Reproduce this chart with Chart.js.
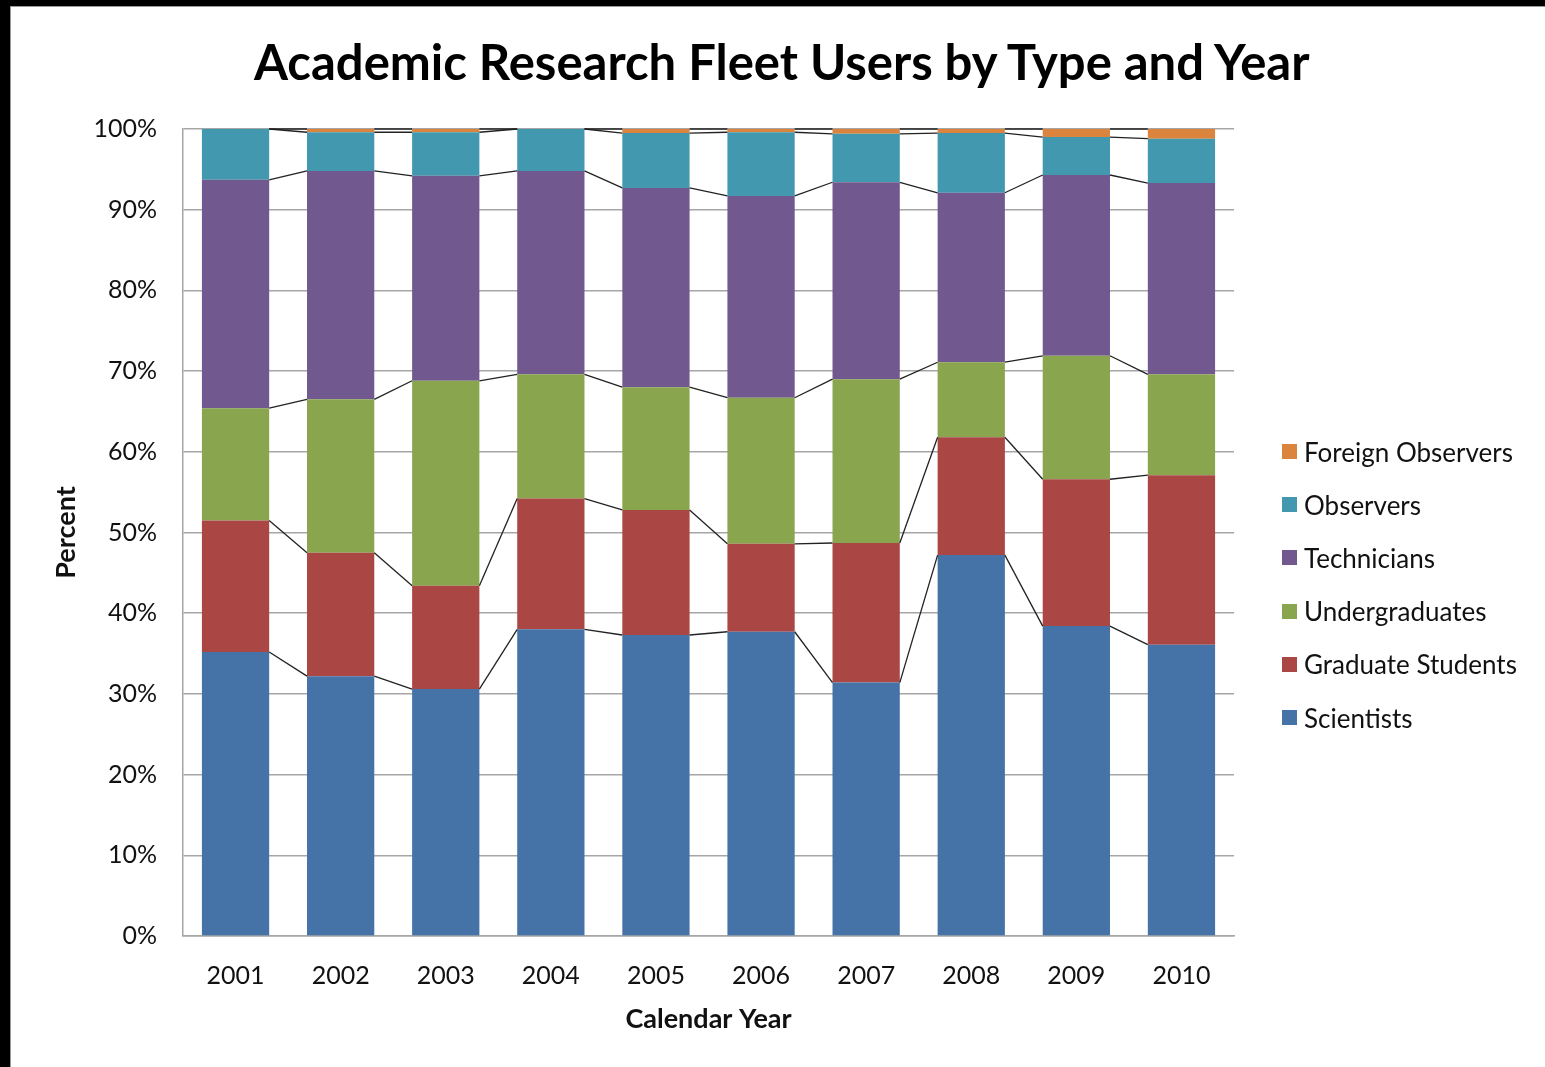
<!DOCTYPE html>
<html>
<head>
<meta charset="utf-8">
<script src="https://cdn.jsdelivr.net/npm/chart.js@4.4.0/dist/chart.umd.min.js"></script>
<style>
    body { margin: 0; background: #000; width: 1545px; height: 1067px; overflow: hidden; }
    #sheet { position: absolute; left: 10px; top: 6px; width: 1535px; height: 1061px; background: #fff; box-shadow: inset 1px 1px 0 #9a9a9a; }
    #chart { position: absolute; left: 0; top: 0; }
    #title { position: absolute; left: 244px; width: 1000px; top: 25px; text-align: center; font-family: Lato, sans-serif; font-weight: bold; font-size: 49px; line-height: 60px; color: #000; white-space: nowrap; }
    #legend { position: absolute; left: 1272px; top: 419px; font-family: Lato, sans-serif; font-size: 26px; color: #111; }
    .item { height: 53.2px; display: flex; align-items: center; white-space: nowrap; }
    .box { width: 15px; height: 15px; margin-right: 7px; }
</style>
</head>
<body>
<div id="sheet">
    <canvas id="chart" width="1535" height="1061"></canvas>
    <div id="title">Academic Research Fleet Users by Type and Year</div>
    <div id="legend"></div>
</div>
<script>
const years = ['2001', '2002', '2003', '2004', '2005', '2006', '2007', '2008', '2009', '2010'];
const scientists = [35.2, 32.2, 30.6, 38.0, 37.3, 37.7, 31.4, 47.2, 38.4, 36.1];
const gradStudents = [16.3, 15.3, 12.8, 16.2, 15.5, 10.9, 17.3, 14.6, 18.2, 21.0];
const undergrads = [13.9, 19.0, 25.4, 15.4, 15.2, 18.1, 20.3, 9.3, 15.3, 12.5];
const technicians = [28.3, 28.3, 25.4, 25.2, 24.7, 25.0, 24.4, 21.0, 22.4, 23.7];
const observers = [6.3, 4.8, 5.4, 5.2, 6.8, 7.9, 6.0, 7.4, 4.7, 5.5];
const foreignObservers = [0, 0.4, 0.4, 0, 0.5, 0.4, 0.6, 0.5, 1.0, 1.2];
const yTicks = [0, 10, 20, 30, 40, 50, 60, 70, 80, 90, 100];

const series = [
    { label: 'Scientists', data: scientists, color: '#4572A7' },
    { label: 'Graduate Students', data: gradStudents, color: '#AA4643' },
    { label: 'Undergraduates', data: undergrads, color: '#89A54E' },
    { label: 'Technicians', data: technicians, color: '#71588F' },
    { label: 'Observers', data: observers, color: '#4198AF' },
    { label: 'Foreign Observers', data: foreignObservers, color: '#DB843D' }
];

// Excel-style series lines joining the top of each segment between bars
const seriesLines = {
    id: 'seriesLines',
    afterDatasetsDraw(chart) {
        const ctx = chart.ctx;
        ctx.save();
        ctx.strokeStyle = '#222';
        ctx.lineWidth = 1.3;
        chart.data.datasets.forEach((ds, i) => {
            const bars = chart.getDatasetMeta(i).data;
            for (let j = 0; j < bars.length - 1; j++) {
                const a = bars[j], b = bars[j + 1];
                ctx.beginPath();
                ctx.moveTo(a.x + a.width / 2, a.y);
                ctx.lineTo(b.x - b.width / 2, b.y);
                ctx.stroke();
            }
        });
        ctx.restore();
    }
};

const gridGray = '#a6a6a6';

new Chart(document.getElementById('chart'), {
    type: 'bar',
    data: {
        labels: years,
        datasets: series.map(s => ({
            label: s.label,
            data: s.data,
            backgroundColor: s.color,
            borderWidth: 0,
            barPercentage: 0.64,
            categoryPercentage: 1
        }))
    },
    options: {
        responsive: false,
        animation: false,
        layout: { padding: { left: 0, right: 311, top: 123, bottom: 0 } },
        plugins: {
            legend: { display: false },
            tooltip: { enabled: false },
            title: { display: false }
        },
        scales: {
            x: {
                stacked: true,
                grid: { display: false, drawTicks: false },
                border: { display: true, color: gridGray, width: 1.5 },
                ticks: { color: '#111', font: { family: 'Lato', size: 25 }, padding: 25 },
                title: {
                    display: true,
                    text: 'Calendar Year',
                    color: '#111',
                    font: { family: 'Lato', size: 27, weight: 'bold' },
                    padding: { top: 0, bottom: 32 }
                },
                afterFit(scale) { scale.height = 1061 - 930; }
            },
            y: {
                stacked: true,
                min: 0,
                max: 100,
                afterBuildTicks(scale) { scale.ticks = yTicks.map(v => ({ value: v })); },
                grid: { color: gridGray, lineWidth: 1.5, drawTicks: false },
                border: { display: true, color: gridGray, width: 1.5 },
                ticks: {
                    color: '#111',
                    font: { family: 'Lato', size: 25 },
                    padding: 26,
                    callback: v => v + '%'
                },
                title: {
                    display: true,
                    text: 'Percent',
                    color: '#111',
                    font: { family: 'Lato', size: 27, weight: 'bold' },
                    padding: { top: 40, bottom: 0 }
                },
                afterFit(scale) { scale.width = 173; }
            }
        }
    },
    plugins: [seriesLines]
});

// legend, top entry is the last series as in the original
const legend = document.getElementById('legend');
series.slice().reverse().forEach(s => {
    const row = document.createElement('div');
    row.className = 'item';
    const box = document.createElement('span');
    box.className = 'box';
    box.style.background = s.color;
    row.appendChild(box);
    row.appendChild(document.createTextNode(s.label));
    legend.appendChild(row);
});
</script>
</body>
</html>
